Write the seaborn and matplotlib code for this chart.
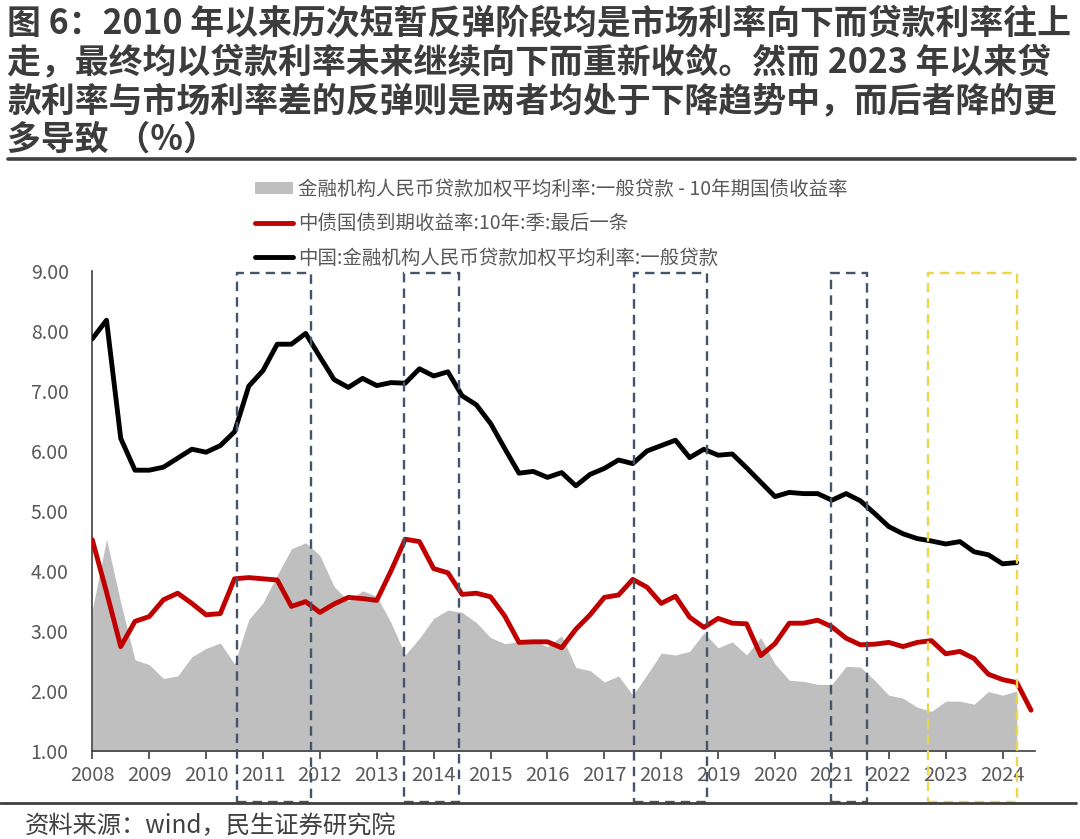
import numpy as np
import matplotlib
matplotlib.use("Agg")
import matplotlib.pyplot as plt
import matplotlib.transforms as mtransforms
from matplotlib.patches import Patch, Rectangle
from matplotlib.lines import Line2D
import seaborn as sns

# ---------------- data (quarterly, first point plotted at the 2008 tick) ----------------
start_year = 2008
loan_rate = [7.87, 8.18, 6.21, 5.68, 5.68, 5.73, 5.88, 6.03, 5.98, 6.09,
             6.32, 7.08, 7.34, 7.78, 7.78, 7.96, 7.57, 7.19, 7.06, 7.21,
             7.09, 7.14, 7.13, 7.37, 7.25, 7.32, 6.92, 6.77, 6.46, 6.04,
             5.63, 5.66, 5.56, 5.64, 5.42, 5.61, 5.71, 5.85, 5.79, 6.00,
             6.09, 6.18, 5.89, 6.03, 5.93, 5.95, 5.72, 5.48, 5.24, 5.31,
             5.29, 5.29, 5.18, 5.29, 5.17, 4.96, 4.74, 4.62, 4.54, 4.50,
             4.45, 4.49, 4.32, 4.27, 4.12, 4.14]
bond_yield = [4.52, 3.65, 2.74, 3.16, 3.24, 3.52, 3.63, 3.46, 3.27, 3.29,
              3.87, 3.89, 3.87, 3.85, 3.41, 3.49, 3.31, 3.45, 3.56, 3.54,
              3.51, 4.00, 4.53, 4.49, 4.04, 3.97, 3.61, 3.63, 3.57, 3.25,
              2.81, 2.82, 2.82, 2.72, 3.03, 3.27, 3.56, 3.60, 3.86, 3.73,
              3.46, 3.58, 3.23, 3.06, 3.21, 3.13, 3.12, 2.59, 2.79, 3.13,
              3.13, 3.18, 3.07, 2.88, 2.77, 2.78, 2.81, 2.74, 2.81, 2.84,
              2.62, 2.66, 2.54, 2.28, 2.19, 2.14, 1.68]
spread = [3.35, 4.53, 3.47, 2.52, 2.44, 2.21, 2.25, 2.57, 2.71, 2.80,
          2.45, 3.19, 3.47, 3.93, 4.37, 4.47, 4.26, 3.74, 3.50, 3.67,
          3.58, 3.14, 2.60, 2.88, 3.21, 3.35, 3.31, 3.14, 2.89, 2.79,
          2.82, 2.84, 2.74, 2.92, 2.39, 2.34, 2.15, 2.25, 1.93, 2.27,
          2.63, 2.60, 2.66, 2.97, 2.72, 2.82, 2.60, 2.89, 2.45, 2.18,
          2.16, 2.11, 2.11, 2.41, 2.40, 2.18, 1.93, 1.88, 1.73, 1.66,
          1.83, 1.83, 1.78, 1.99, 1.93, 2.00]
year_ticks = list(range(2008, 2025))
y_ticks = [1, 2, 3, 4, 5, 6, 7, 8, 9]

label_spread = "金融机构人民币贷款加权平均利率:一般贷款 - 10年期国债收益率"
label_bond = "中债国债到期收益率:10年:季:最后一条"
label_loan = "中国:金融机构人民币贷款加权平均利率:一般贷款"

# highlighted periods (data x-coordinates)
dark_boxes = [(2010.55, 2011.84), (2013.48, 2014.45), (2017.53, 2018.81), (2020.99, 2021.61)]
yellow_boxes = [(2022.69, 2024.26)]

title_lines = ["图 6：2010 年以来历次短暂反弹阶段均是市场利率向下而贷款利率往上",
               "走，最终均以贷款利率未来继续向下而重新收敛。然而 2023 年以来贷",
               "款利率与市场利率差的反弹则是两者均处于下降趋势中，而后者降的更",
               "多导致 （%）"]
source_text = "资料来源：wind，民生证券研究院"

# ---------------- figure ----------------
sns.set_theme(style="white")
plt.rcParams["font.family"] = ["Noto Sans CJK SC", "DejaVu Sans"]

W, H = 1080, 839
fig = plt.figure(figsize=(W / 100, H / 100), dpi=100)
fig.patch.set_facecolor("white")

def fy(py):
    return 1 - py / H

ax_left, ax_right, ax_top, ax_bottom = 92.3, 1035, 271, 751
ax = fig.add_axes([ax_left / W, fy(ax_bottom), (ax_right - ax_left) / W, (ax_bottom - ax_top) / H])
ax.set_facecolor("white")

x_loan = start_year + np.arange(len(loan_rate)) / 4
x_bond = start_year + np.arange(len(bond_yield)) / 4
x_spread = start_year + np.arange(len(spread)) / 4

grey = "#BFBFBF"
red = "#C00000"
ax.fill_between(x_spread, 0, spread, color=grey, lw=0, zorder=1)
sns.lineplot(x=x_bond, y=bond_yield, color=red, lw=3.5, ax=ax, zorder=3,
             solid_joinstyle="round", solid_capstyle="round", sort=False)
sns.lineplot(x=x_loan, y=loan_rate, color="black", lw=3.5, ax=ax, zorder=4,
             solid_joinstyle="round", solid_capstyle="round", sort=False)

ax.set_xlim(2008, 2024.57)
ax.set_ylim(1, 9)
ax.set_xticks(year_ticks)
ax.set_xticklabels([str(y) for y in year_ticks])
ax.set_yticks(y_ticks)
ax.set_yticklabels([f"{v:.2f}" for v in y_ticks])
ax.set_xlabel("")
ax.set_ylabel("")
for s in ["top", "right"]:
    ax.spines[s].set_visible(False)
for s in ["left", "bottom"]:
    ax.spines[s].set_color("#404040")
    ax.spines[s].set_linewidth(1.2)
ax.tick_params(axis="x", direction="out", length=6, width=1.2, color="#404040",
               labelcolor="#595959", labelsize=14.5, pad=4, bottom=True)
ax.tick_params(axis="y", length=0, labelcolor="#595959", labelsize=14, pad=17, left=False)
ax.grid(False)

# dashed boxes (x in data, y in figure)
trans = mtransforms.blended_transform_factory(ax.transData, fig.transFigure)
box_top, box_bot = fy(273), fy(802)
for (x0, x1), col in [(b, "#44546A") for b in dark_boxes] + [(b, "#EDD54E") for b in yellow_boxes]:
    r = Rectangle((x0, box_bot), x1 - x0, box_top - box_bot, transform=trans, fill=False,
                  ec=col, lw=1.7, ls=(0, (4, 2.6)), clip_on=False, zorder=6)
    fig.add_artist(r)

# legend
handles = [Patch(facecolor=grey, edgecolor="none"),
           Line2D([], [], color=red, lw=3.5),
           Line2D([], [], color="black", lw=3.5)]
fig.legend(handles, [label_spread, label_bond, label_loan], loc="upper left",
           bbox_to_anchor=(255 / W, fy(179)), frameon=False, fontsize=14.0,
           labelcolor="#595959", handlelength=1.95, handleheight=0.55, handletextpad=0.25,
           labelspacing=0.68, borderaxespad=0, borderpad=0)

# title
for i, line in enumerate(title_lines):
    fig.text(7 / W, fy(24 + 38.3 * i), line, fontsize=24.4, fontweight="bold",
             color="#3C3C3C", ha="left", va="center")
fig.add_artist(Line2D([8 / W, 1075 / W], [fy(159), fy(159)], color="#404040", lw=2.6))

# source
fig.add_artist(Line2D([0 / W, 1076 / W], [fy(803), fy(803)], color="#404040", lw=2.0, zorder=7))
fig.text(25 / W, fy(826), source_text, fontsize=17.5, color="#404040", ha="left", va="center")

fig.savefig("out.png", dpi=100, facecolor="white")
